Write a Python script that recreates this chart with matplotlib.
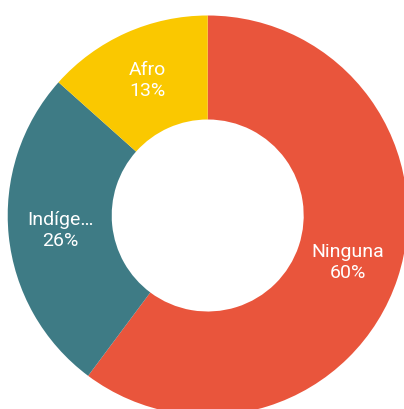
import matplotlib
matplotlib.use("Agg")
import matplotlib.pyplot as plt

categories = ["Ninguna", "Indíge…", "Afro"]
values = [60.2, 26.4, 13.4]
colors = ["#E9553C", "#3E7B85", "#FAC800"]

W, H = 404, 409
fig = plt.figure(figsize=(W / 100, H / 100), dpi=100)
cx, cy, R = 207.7, 215.5, 200.0
ax = fig.add_axes([(cx - R) / W, (H - cy - R) / H, 2 * R / W, 2 * R / H])
ax.set_xlim(-1, 1)
ax.set_ylim(-1, 1)
ax.axis("off")

total = sum(values)
labels = [f"{c}\n{v / total * 100:.0f}%" for c, v in zip(categories, values)]

wedges, texts = ax.pie(
    values, colors=colors, startangle=90, counterclock=False,
    radius=1.0, wedgeprops=dict(width=0.52, linewidth=0),
    labels=labels, labeldistance=0.74,
    textprops=dict(color="white", fontsize=14, family=["Roboto", "DejaVu Sans"],
                   linespacing=1.2),
)
for t in texts:
    t.set_ha("center")
    t.set_va("center")
ax.set_xlim(-1, 1)
ax.set_ylim(-1, 1)
ax.set_aspect("auto")

fig.savefig("out.png", dpi=100)
